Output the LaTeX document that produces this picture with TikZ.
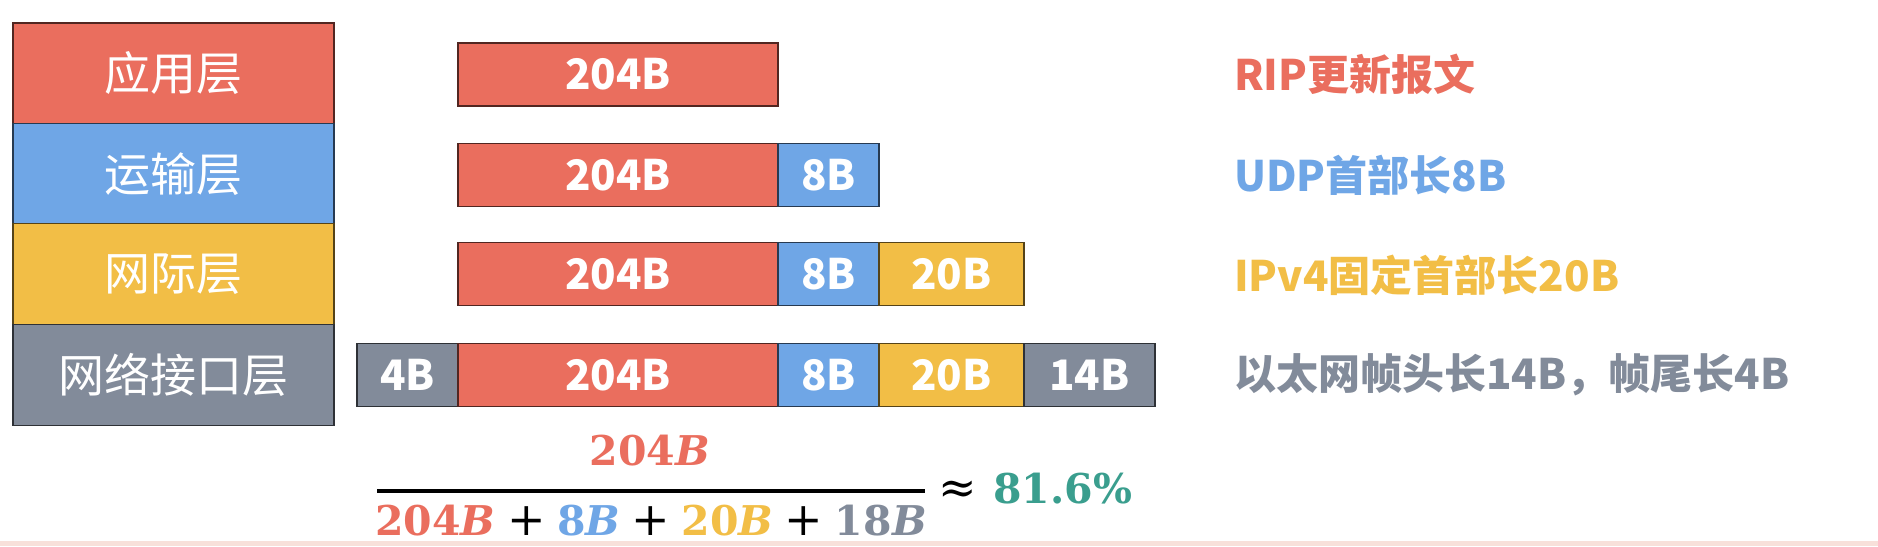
\documentclass[tikz,border=0pt]{standalone}
\usepackage{fontspec}
\setmainfont{Noto Sans CJK SC}
\newfontfamily\fracfont{DejaVu Serif}
\definecolor{cred}{RGB}{234,110,94}
\definecolor{cblue}{RGB}{111,166,230}
\definecolor{cyellow}{RGB}{242,190,70}
\definecolor{cgrey}{RGB}{130,139,154}
\definecolor{cteal}{RGB}{58,158,142}
\definecolor{bandpink}{RGB}{248,224,218}
\newcommand\plussep{\hspace{0.28em}{\mdseries\fontsize{46}{50}\selectfont +}\hspace{0.28em}}
\tikzset{
	layer/.style={draw=#1!35!black, fill=#1, line width=1.5pt, minimum width=321pt, minimum height=101pt, inner sep=0pt, text=white, font=\fontsize{46}{50}\selectfont},
	cell/.style 2 args={draw=#1!35!black, fill=#1, line width=1.5pt, minimum width=#2pt, minimum height=63pt, inner sep=0pt, text=white, font=\bfseries\fontsize{42}{46}\selectfont},
	note/.style={anchor=west, inner sep=0pt, text=#1, font=\bfseries\fontsize{42}{46}\selectfont},
	frac/.style={inner sep=0pt, font=\fracfont\bfseries\fontsize{41}{45}\selectfont}
}

\begin{document}
\begin{tikzpicture}[x=1pt, y=-1pt]
		%%%%% START %%%%%
		\useasboundingbox[fill=white] (0,0) rectangle (1878,546);
		\fill[bandpink] (0,541) rectangle (1878,546);
		
		% layers
		\node[layer=cred] (app) at (173.5,73.5) {应用层};
		\node[layer=cblue] (trans) at (173.5,174) {运输层};
		\node[layer=cyellow] (inet) at (173.5,274) {网际层};
		\node[layer=cgrey] (link) at (173.5,375) {网络接口层};
		
		% packets
		\node[cell={cred}{320}] (a1) at (618,74.5) {204B};
		
		\node[cell={cred}{320}] (b1) at (618,175) {204B};
		\node[cell={cblue}{101}] (b2) at (828.5,175) {8B};
		
		\node[cell={cred}{320}] (c1) at (618,274) {204B};
		\node[cell={cblue}{101}] (c2) at (828.5,274) {8B};
		\node[cell={cyellow}{145}] (c3) at (951.5,274) {20B};
		
		\node[cell={cgrey}{101}] (d0) at (407.5,375) {4B};
		\node[cell={cred}{320}] (d1) at (618,375) {204B};
		\node[cell={cblue}{101}] (d2) at (828.5,375) {8B};
		\node[cell={cyellow}{145}] (d3) at (951.5,375) {20B};
		\node[cell={cgrey}{131}] (d4) at (1089.5,375) {14B};
		
		% notes
		\node[note=cred] (n1) at (1234,74) {RIP更新报文};
		\node[note=cblue] (n2) at (1234,175) {UDP首部长8B};
		\node[note=cyellow] (n3) at (1234,275) {IPv4固定首部长20B};
		\node[note=cgrey] (n4) at (1234,375) {以太网帧头长14B，帧尾长4B};
		
		% efficiency
		\node[frac, anchor=base, text=cred] (num) at (650,465) {204\textit{B}};
		\node[frac, anchor=base] (den) at (651,535) {{\color{cred}204\textit{B}}\plussep{\color{cblue}8\textit{B}}\plussep{\color{cyellow}20\textit{B}}\plussep{\color{cgrey}18\textit{B}}};
		\coordinate (barL) at (377,491);
		\coordinate (barR) at (925,491);
		\draw[line width=4pt] (barL) -- (barR);
		\node[frac, anchor=base west] (res) at (938,503) {{\mdseries\fontsize{46}{50}\selectfont ≈}\hspace{0.4em}{\color{cteal}81.6\%}};
		%%%%% END %%%%%
\end{tikzpicture}
\end{document}
